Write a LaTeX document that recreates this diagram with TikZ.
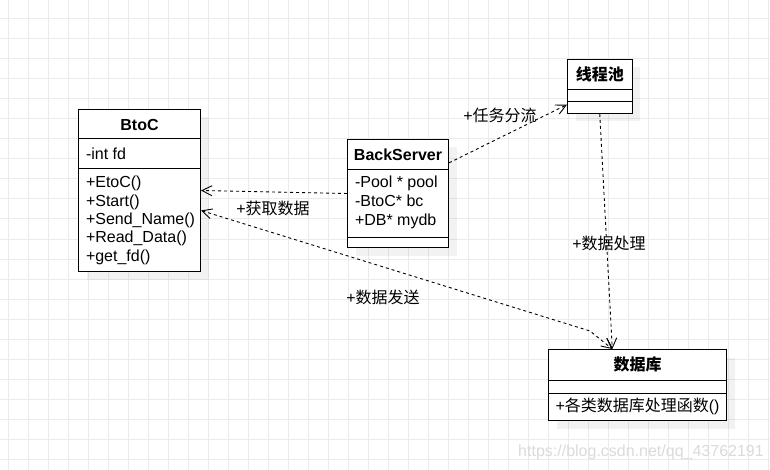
\documentclass[tikz,border=0pt]{standalone}
\usepackage{fontspec}
\setmainfont{Liberation Sans}
\newfontfamily\cjk{Noto Sans CJK SC}
\usetikzlibrary{%
  arrows.meta,%
  calc,%
  shadows,% drop shadow of the boxes
  positioning%
}
\tikzset{barb/.tip={Straight Barb[length=10pt,width=10pt]}}

\begin{document}
\begin{tikzpicture}[
  x=1pt, y=-1pt,
  font=\fontsize{16}{18}\selectfont,
  line width=1pt,
  box/.style={draw, fill=white, inner sep=0pt, anchor=north west,
    drop shadow={shadow xshift=8pt, shadow yshift=-8pt, fill=black, opacity=0.05}},
  title/.style={font=\fontsize{16}{18}\selectfont\bfseries, inner sep=0pt},
  member/.style={anchor=west, inner sep=0pt, text height=11.5pt, text depth=0pt},
  dep/.style={dash pattern=on 3pt off 3pt, line width=0.9pt, -barb},
  tag/.style={inner sep=0pt},
]

\useasboundingbox (0,0) rectangle (770,470);
\fill[white] (0,0) rectangle (770,470);
% grid
\foreach \x in {0,...,38} {
  \draw[black!8] (8+20*\x,0) -- (8+20*\x,470);
}
\foreach \y in {0,...,22} {
  \draw[black!8] (0,19+20*\y) -- (770,19+20*\y);
}

% BtoC
\node[box, minimum width=122pt, minimum height=162pt] (btoc) at (78,109) {};
\node[title] (btoc-name) at ($(btoc.north)+(0,15.5)$) {BtoC};
\draw ($(btoc.north west)+(0,30)$) -- ($(btoc.north east)+(0,30)$);
\draw ($(btoc.north west)+(0,60)$) -- ($(btoc.north east)+(0,60)$);
\node[member] (btoc-fd) at ($(btoc.north west)+(7.5,45)$) {-int fd};
\foreach \txt [count=\i] in {+EtoC(),+Start(),+Send\_Name(),+Read\_Data(),+get\_fd()} {
  \node[member] (btoc-m\i) at ($(btoc.north west)+(7.5,54.5+18.4*\i)$) {\txt};
}

% BackServer
\node[box, minimum width=101pt, minimum height=108pt] (server) at (347,139) {};
\node[title] (server-name) at ($(server.north)+(0,15.5)$) {BackServer};
\draw ($(server.north west)+(0,31)$) -- ($(server.north east)+(0,31)$);
\draw ($(server.north west)+(0,98)$) -- ($(server.north east)+(0,98)$);
\node[member] (server-a1) at ($(server.north west)+(7.5,43)$) {-Pool * pool};
\node[member] (server-a2) at ($(server.north west)+(7.5,62)$) {-BtoC* bc};
\node[member] (server-a3) at ($(server.north west)+(7.5,81)$) {+DB* mydb};

% thread pool
\node[box, minimum width=64.5pt, minimum height=54pt] (pool) at (567,59) {};
\node[title] (pool-name) at ($(pool.north)+(0,15.5)$) {\cjk\bfseries 线程池};
\draw ($(pool.north west)+(0,31)$) -- ($(pool.north east)+(0,31)$);
\draw ($(pool.north west)+(0,43)$) -- ($(pool.north east)+(0,43)$);

% database
\node[box, minimum width=178pt, minimum height=71pt] (db) at (548,349) {};
\node[title] (db-name) at ($(db.north)+(0,15.5)$) {\cjk\bfseries 数据库};
\draw ($(db.north west)+(0,31)$) -- ($(db.north east)+(0,31)$);
\draw ($(db.north west)+(0,44)$) -- ($(db.north east)+(0,44)$);
\node[member] (db-m1) at ($(db.north west)+(7,57)$) {+{\cjk 各类数据库处理函数}()};

% dependencies
\coordinate (bend) at (590,331);
\draw[dep] (server.west) -- (btoc.east);
\draw[dep] (server.31) -- (pool.209);
\draw[dep] (pool.south) -- (db.125);
\draw[dep, barb-barb] (btoc.-18.6) -- (bend) -- (db.125);

\node[tag] (l-get) at (273,208) {+{\cjk 获取数据}};
\node[tag] (l-task) at (500,115) {+{\cjk 任务分流}};
\node[tag] (l-proc) at (609,243) {+{\cjk 数据处理}};
\node[tag] (l-send) at (383,297) {+{\cjk 数据发送}};

\node[tag, text=black!14] (mark) at (641,452) {https://blog.csdn.net/qq\_43762191};

\end{tikzpicture}
\end{document}
